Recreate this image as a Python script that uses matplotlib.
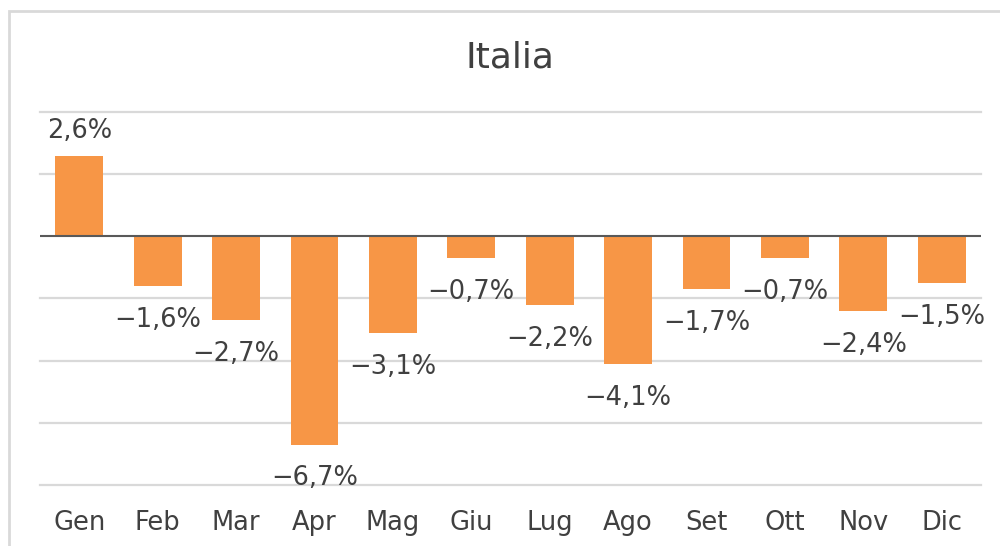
# grafico a barre variazioni mensili - Italia
import matplotlib.pyplot as plt
from matplotlib.patches import Rectangle

mesi = ['Gen', 'Feb', 'Mar', 'Apr', 'Mag', 'Giu', 'Lug', 'Ago', 'Set', 'Ott', 'Nov', 'Dic']
variazioni = [2.6, -1.6, -2.7, -6.7, -3.1, -0.7, -2.2, -4.1, -1.7, -0.7, -2.4, -1.5]
griglia = [-8, -6, -4, -2, 0, 2, 4]

ARANCIO = '#F79646'
TESTO = '#404040'

fig = plt.figure(figsize=(10, 5.46), dpi=100)
ax = fig.add_axes([0.04, 0.1117, 0.941, 0.6832])

x = range(len(mesi))
ax.bar(x, variazioni, width=0.61, color=ARANCIO, zorder=2)
ax.set_xlim(-0.5, len(mesi) - 0.5)
ax.set_ylim(-8, 4)

for g in griglia:
    if g != 0:
        ax.axhline(g, color='#D9D9D9', lw=1.6, zorder=1, clip_on=False)
ax.axhline(0, color='#595959', lw=1.5, zorder=3)

for i, v in enumerate(variazioni):
    testo = ('%.1f%%' % v).replace('.', ',').replace('-', '\u2212')
    if v >= 0:
        ax.annotate(testo, (i, v), xytext=(0, 8), textcoords='offset points',
                    ha='center', va='bottom', fontsize=18.5, color=TESTO)
    else:
        ax.annotate(testo, (i, v), xytext=(0, -15), textcoords='offset points',
                    ha='center', va='top', fontsize=18.5, color=TESTO)

ax.set_xticks(list(x))
ax.set_xticklabels(mesi, fontsize=18.5, color=TESTO)
ax.set_yticks([])
ax.tick_params(axis='x', length=0, pad=18)
for s in ax.spines.values():
    s.set_visible(False)

fig.text(0.51, 0.895, 'Italia', ha='center', va='center', fontsize=26, color=TESTO)

# cornice grigia del grafico
bordo = Rectangle((0.009, -0.1), 1.2, 1.1 - 11 / 546, transform=fig.transFigure,
                  fill=False, edgecolor='#D9D9D9', lw=2)
fig.patches.append(bordo)

plt.savefig('out.png', dpi=100)
